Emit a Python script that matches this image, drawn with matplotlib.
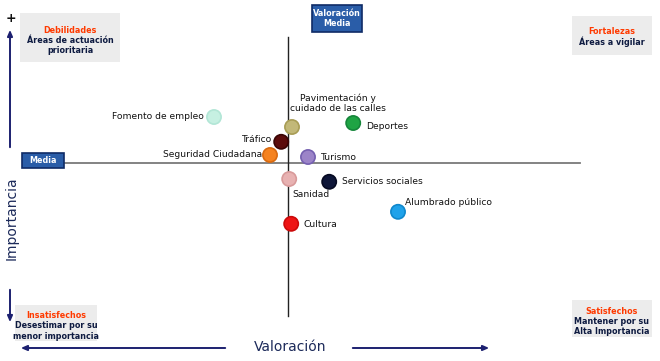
# Matriz importancia / valoración de servicios municipales
import matplotlib.pyplot as plt
from matplotlib.patches import FancyBboxPatch, Rectangle

plt.rcParams['font.family'] = ['DejaVu Sans']

# datos
servicios = ["Fomento de empleo", "Pavimentación y\ncuidado de las calles", "Deportes",
             "Tráfico", "Seguridad Ciudadana", "Turismo", "Sanidad",
             "Servicios sociales", "Alumbrado público", "Cultura"]
valoracion = [3.15, 5.10, 6.63, 4.83, 4.55, 5.50, 5.03, 6.03, 7.75, 5.08]
importancia = [6.15, 5.90, 6.00, 5.53, 5.20, 5.15, 4.60, 4.53, 3.78, 3.48]
colores = ["#c6f0e2", "#c2b878", "#1fa444", "#5c0c0c", "#f5821f",
           "#9c84c8", "#e8b2b2", "#0e1638", "#1fa2ea", "#ee1414"]
bordes = ["#b2e6d6", "#a89d55", "#15863a", "#3a0505", "#d86a10",
          "#7560b0", "#d89a9a", "#060a22", "#1088cc", "#cc0a0a"]
media_val = 5.0
media_imp = 5.0

# posición de las etiquetas (pixeles respecto al punto)
offsets = [(-10, 0), (46, 24), (13, -4), (-9, 2), (-8, 0),
           (13, -1), (3, -16), (13, 0), (7, 9), (12, -1)]
alineacion = ["right", "center", "left", "right", "right",
              "left", "left", "left", "left", "left"]

fig = plt.figure(figsize=(6.6, 3.61), dpi=100)
ax = fig.add_axes([0, 0, 1, 1])
ax.set_xlim(-2.2, 14.3)
ax.set_ylim(0.05, 9.075)
ax.axis("off")

W, H = 660, 361
def fx(px):
    return px / W
def fy(py):
    return 1 - py / H

# lineas de la media
ax.plot([fx(65), fx(580)], [fy(163), fy(163)], transform=ax.transAxes,
        color="#7a7a7a", lw=1.3, zorder=1)
ax.axvline(media_val, ymin=fy(316), ymax=fy(37), color="#222222", lw=1.0, zorder=1)

ax.scatter(valoracion, importancia, s=105, c=colores, edgecolors=bordes,
           linewidths=1.2, zorder=3)

for nombre, x, y, off, ha in zip(servicios, valoracion, importancia, offsets, alineacion):
    ax.annotate(nombre, (x, y), xytext=off, textcoords="offset pixels",
                ha=ha, va="center", fontsize=6.6, color="#111111",
                linespacing=1.2, zorder=4)

# cajas azules "Media"
def caja_azul(x0, y0, x1, y1, texto):
    ax.add_patch(Rectangle((fx(x0), fy(y1)), fx(x1) - fx(x0), fy(y0) - fy(y1),
                           transform=ax.transAxes, facecolor="#2a5da8",
                           edgecolor="#0f2b66", lw=1.2, zorder=5))
    ax.text(fx((x0 + x1) / 2), fy((y0 + y1) / 2), texto, transform=ax.transAxes,
            ha="center", va="center", color="white", fontsize=5.8,
            fontweight="bold", linespacing=1.1, zorder=6)

caja_azul(22, 153, 64, 168, "Media")
caja_azul(312, 5, 362, 32, "Valoración\nMedia")

# cajas de los cuadrantes
def caja_gris(x0, y0, x1, y1, titulo, texto):
    ax.add_patch(Rectangle((fx(x0), fy(y1)), fx(x1) - fx(x0), fy(y0) - fy(y1),
                           transform=ax.transAxes, facecolor="#ececec",
                           edgecolor="none", zorder=5))
    n = texto.count("\n") + 1
    cy = (y0 + y1) / 2
    ty = cy - 6 * n / 2 - 1
    ax.text(fx((x0 + x1) / 2), fy(ty), titulo, transform=ax.transAxes,
            ha="center", va="center", color="#ff3a00", fontsize=5.8,
            fontweight="bold", zorder=6)
    ax.text(fx((x0 + x1) / 2), fy(ty + 6 + 4.5 * n), texto, transform=ax.transAxes,
            ha="center", va="center", color="#0d1a40", fontsize=5.8,
            fontweight="bold", linespacing=1.15, zorder=6)

caja_gris(20, 13, 120, 62, "Debilidades", "Áreas de actuación\nprioritaria")
caja_gris(572, 16, 652, 55, "Fortalezas", "Áreas a vigilar")
caja_gris(15, 305, 97, 341, "Insatisfechos", "Desestimar por su\nmenor importancia")
caja_gris(572, 300, 652, 337, "Satisfechos", "Mantener por su\nAlta Importancia")

# flechas de los ejes
azul = "#1c2070"
flecha = dict(arrowstyle="-|>,head_length=0.35,head_width=0.15", color=azul, lw=1.4)
ax.annotate("", xy=(fx(10), fy(27)), xytext=(fx(10), fy(150)),
            xycoords=ax.transAxes, textcoords=ax.transAxes, arrowprops=flecha)
ax.annotate("", xy=(fx(10), fy(325)), xytext=(fx(10), fy(287)),
            xycoords=ax.transAxes, textcoords=ax.transAxes, arrowprops=flecha)
ax.text(fx(11), fy(18), "+", transform=ax.transAxes, ha="center", va="center",
        fontsize=9, fontweight="bold", color="#111111")
ax.text(fx(12), fy(218), "Importancia", transform=ax.transAxes, rotation=90,
        ha="center", va="center", fontsize=10, color="#1c2a5a")

ax.annotate("", xy=(fx(18), fy(348)), xytext=(fx(228), fy(348)),
            xycoords=ax.transAxes, textcoords=ax.transAxes, arrowprops=flecha)
ax.annotate("", xy=(fx(492), fy(348)), xytext=(fx(350), fy(348)),
            xycoords=ax.transAxes, textcoords=ax.transAxes, arrowprops=flecha)
ax.text(fx(290), fy(347), "Valoración", transform=ax.transAxes, ha="center",
        va="center", fontsize=10, color="#1c2a5a")

fig.savefig("out.png", dpi=100, facecolor="white")
